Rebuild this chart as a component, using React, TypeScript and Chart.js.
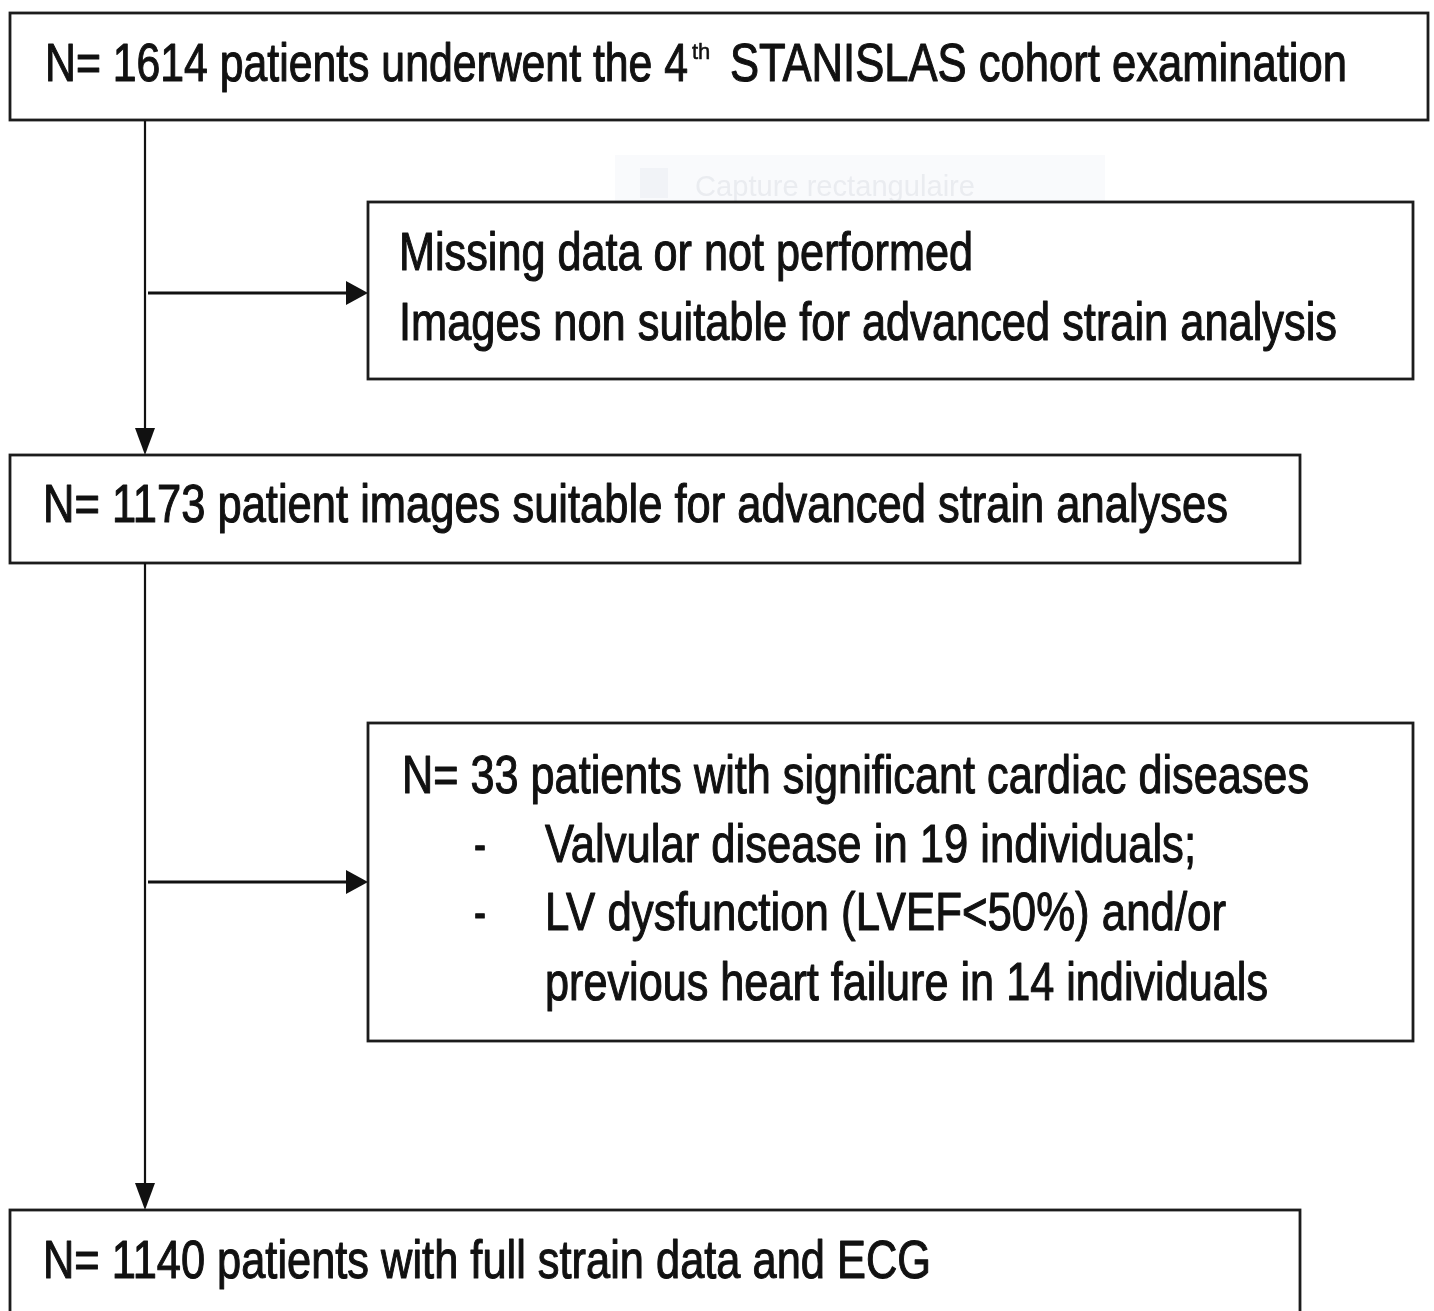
import React, { useEffect, useRef } from "react";
import { Chart, registerables } from "chart.js";

Chart.register(...registerables);

// ---- data ----
const cohortTotal = 1614;
const suitableTotal = 1173;
const cardiacExcluded = 33;
const valvularCount = 19;
const lvDysfunctionCount = 14;
const finalTotal = 1140;

const headerLine = [`N= ${cohortTotal} patients underwent the 4`, "th", "STANISLAS cohort examination"];
const exclusion1Lines = ["Missing data or not performed", "Images non suitable for advanced strain analysis"];
const suitableLine = `N= ${suitableTotal} patient images suitable for advanced strain analyses`;
const exclusion2Title = `N= ${cardiacExcluded} patients with significant cardiac diseases`;
const exclusion2Bullets = [`Valvular disease in ${valvularCount} individuals;`, "LV dysfunction (LVEF<50%) and/or"];
const exclusion2Cont = `previous heart failure in ${lvDysfunctionCount} individuals`;
const finalLine = `N= ${finalTotal} patients with full strain data and ECG`;
const watermarkText = "Capture rectangulaire";

// ---- layout (data units on hidden linear axes) ----
const boxRects = [
  [10, 13, 1428, 120],
  [368, 202, 1413, 379],
  [10, 455, 1300, 563],
  [368, 723, 1413, 1041],
  [10, 1210, 1300, 1340],
];
const spineX = 145;
const spineSegments = [
  [121, 455],
  [563, 1210],
];
const branchY = [293, 882];

const App = () => {
  const ref = useRef<HTMLCanvasElement | null>(null);
  useEffect(() => {
    if (!ref.current) return;
    const flowPlugin = {
      id: "flow",
      afterDraw(chart: any) {
        const ctx = chart.ctx as CanvasRenderingContext2D;
        const xs = chart.scales.x;
        const ys = chart.scales.y;
        const px = (v: number) => xs.getPixelForValue(v);
        const py = (v: number) => ys.getPixelForValue(v);
        ctx.save();
        // watermark
        ctx.fillStyle = "#f9fafc";
        ctx.fillRect(px(615), py(155), px(1105) - px(615), py(212) - py(155));
        ctx.fillStyle = "#f1f3f7";
        ctx.fillRect(px(640), py(168), px(668) - px(640), py(198) - py(168));
        ctx.fillStyle = "#eaecf0";
        ctx.font = "30px 'Liberation Sans', Arial";
        ctx.textBaseline = "alphabetic";
        ctx.fillText(watermarkText, px(695), py(196), px(975) - px(695));

        // boxes
        ctx.strokeStyle = "#1c1c1c";
        ctx.lineWidth = 2.8;
        ctx.fillStyle = "#ffffff";
        boxRects.forEach(([x0, y0, x1, y1]) => {
          ctx.fillRect(px(x0), py(y0), px(x1) - px(x0), py(y1) - py(y0));
          ctx.strokeRect(px(x0), py(y0), px(x1) - px(x0), py(y1) - py(y0));
        });

        // spine lines
        ctx.strokeStyle = "#111";
        ctx.lineWidth = 2.2;
        ctx.fillStyle = "#111";
        spineSegments.forEach(([a, b]) => {
          ctx.beginPath();
          ctx.moveTo(px(spineX), py(a));
          ctx.lineTo(px(spineX), py(b - 20));
          ctx.stroke();
          ctx.beginPath();
          ctx.moveTo(px(spineX), py(b));
          ctx.lineTo(px(spineX - 10), py(b - 27));
          ctx.lineTo(px(spineX + 10), py(b - 27));
          ctx.closePath();
          ctx.fill();
        });
        // branches
        ctx.lineWidth = 3;
        branchY.forEach((y) => {
          ctx.beginPath();
          ctx.moveTo(px(148), py(y));
          ctx.lineTo(px(350), py(y));
          ctx.stroke();
          ctx.beginPath();
          ctx.moveTo(px(368), py(y));
          ctx.lineTo(px(346), py(y - 12));
          ctx.lineTo(px(346), py(y + 12));
          ctx.closePath();
          ctx.fill();
        });

        // text
        ctx.fillStyle = "#111";
        ctx.strokeStyle = "#111";
        ctx.lineJoin = "round";
        const big = "53px 'Liberation Sans', Arial";
        const txt = (s: string, x0: number, x1: number, y: number, font = big, stroke = 1.1) => {
          ctx.font = font;
          const w = ctx.measureText(s).width;
          const target = px(x1) - px(x0);
          ctx.save();
          ctx.translate(px(x0), py(y));
          ctx.scale(Math.min(1, target / w), 1);
          ctx.fillText(s, 0, 0);
          if (stroke > 0) {
            ctx.lineWidth = stroke;
            ctx.strokeText(s, 0, 0);
          }
          ctx.restore();
        };
        txt(headerLine[0], 45, 688, 81);
        txt(headerLine[1], 692, 716, 59, "22px 'Liberation Sans', Arial", 0.5);
        txt(headerLine[2], 730, 1347, 81);

        txt(exclusion1Lines[0], 399, 973, 270);
        txt(exclusion1Lines[1], 399, 1337, 340);

        txt(suitableLine, 43, 1228, 522);

        txt(exclusion2Title, 402, 1309, 793);
        txt("-", 474, 486, 862);
        txt(exclusion2Bullets[0], 545, 1196, 862);
        txt("-", 474, 486, 930);
        txt(exclusion2Bullets[1], 545, 1226, 930);
        txt(exclusion2Cont, 545, 1268, 1000);

        txt(finalLine, 43, 931, 1278);
        ctx.restore();
      },
    };
    const chart = new Chart(ref.current, {
      type: "scatter",
      data: { datasets: [{ data: [], pointRadius: 0 }] },
      options: {
        animation: false,
        responsive: false,
        maintainAspectRatio: false,
        layout: { padding: 0 },
        plugins: { legend: { display: false }, tooltip: { enabled: false } },
        scales: {
          x: { type: "linear", min: 0, max: 1434, display: false },
          y: { type: "linear", min: 0, max: 1311, reverse: true, display: false },
        },
      },
      plugins: [flowPlugin],
    });
    return () => chart.destroy();
  }, []);
  return (
    <div style={{ position: "fixed", left: 0, top: 0, width: 1434, height: 1311, background: "#fff" }}>
      <canvas ref={ref} width={1434} height={1311} style={{ width: 1434, height: 1311, display: "block" }} />
    </div>
  );
};

export default App;
